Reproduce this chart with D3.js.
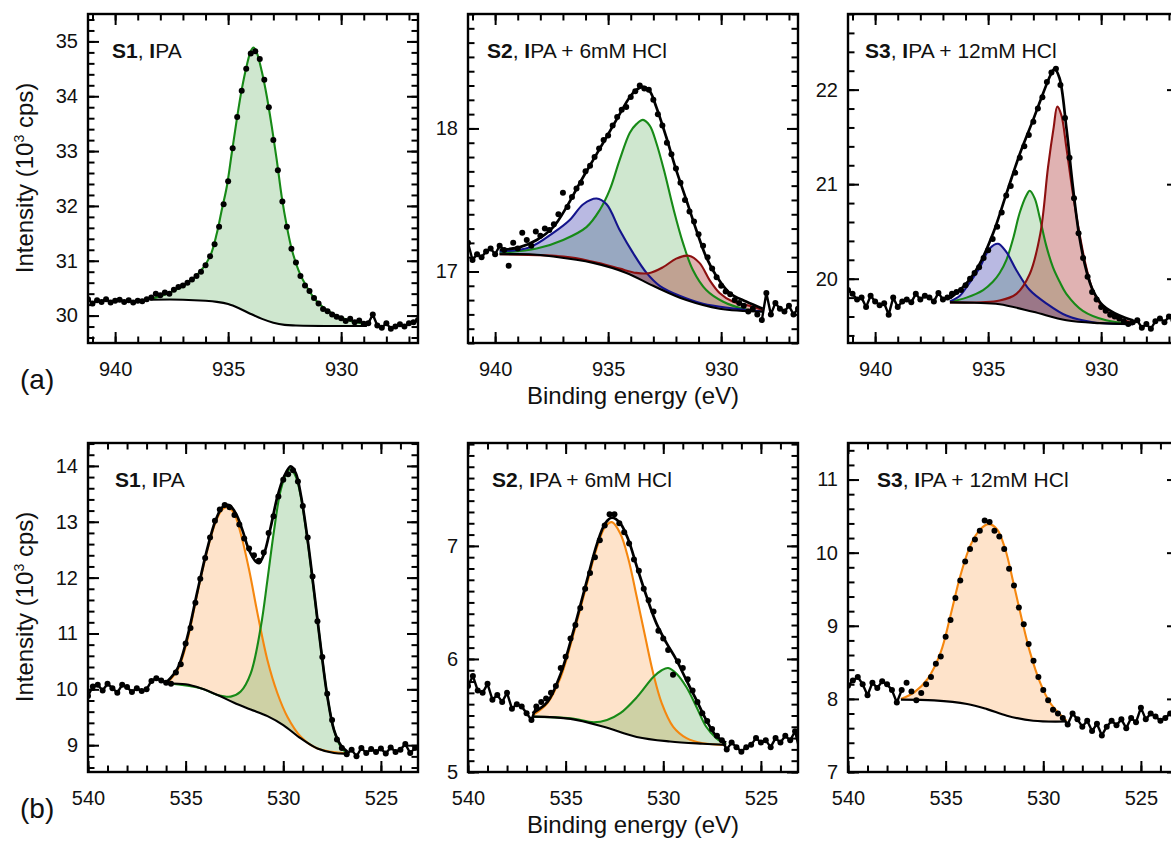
<!DOCTYPE html>
<html>
<head>
<meta charset="utf-8">
<script src="https://cdn.jsdelivr.net/npm/d3@7"></script>
<style>
  body { margin: 0; background: #fff; }
</style>
</head>
<body>
<div id="vis"></div>
<script>
// ---------- data ----------
// Cu 2p region, measured points every 0.2 eV starting at 941.2 eV
const cuDotStart = 941.2, cuDotStep = 0.2
const oDotStart = 540.0, oDotStep = 0.25
const cuXTicks = [940, 935, 930]
const oXTicks = [540, 535, 530, 525]

const cuS1Dots = [30.30,30.22,30.28,30.25,30.30,30.24,30.27,30.29,30.25,30.28,
  30.24,30.27,30.26,30.30,30.33,30.40,30.37,30.42,30.40,30.47,
  30.52,30.55,30.60,30.66,30.72,30.80,30.92,31.08,31.30,31.62,
  32.03,32.45,33.05,33.62,34.10,34.50,34.78,34.82,34.68,34.30,
  33.80,33.20,32.65,32.08,31.62,31.22,30.97,30.72,30.55,30.45,
  30.32,30.22,30.12,30.08,30.02,29.98,29.95,29.90,29.94,29.88,
  29.91,29.85,29.86,30.02,29.82,29.78,29.86,29.76,29.80,29.84,
  29.80,29.86,29.88,29.92]
const cuS1Fit = [[938.45,30.30],[937.71,30.40],[936.98,30.54],[936.24,30.80],[935.80,31.08],[935.50,31.50],
  [935.28,31.93],[935.06,32.35],[934.84,32.96],[934.62,33.57],[934.40,34.12],[934.17,34.57],[934.00,34.82],
  [933.88,34.89],[933.73,34.79],[933.51,34.45],[933.29,34.00],[933.07,33.45],[932.85,32.84],[932.63,32.17],
  [932.40,31.62],[932.18,31.20],[931.89,30.83],[931.52,30.52],[931.08,30.26],[930.63,30.10],[930.04,29.97],
  [929.45,29.89],[928.86,29.85]]
const cuS1Bg = [[938.45,30.29],[937.0,30.29],[936.0,30.27],[935.5,30.25],[935.0,30.21],[934.5,30.13],[934.0,30.03],
  [933.5,29.94],[933.0,29.87],[932.5,29.83],[932.0,29.82],[930.0,29.81],[928.86,29.81]]
const cuS1Y = [30, 31, 32, 33, 34, 35]

const cuS2Dots = [17.20,17.08,17.12,17.10,17.14,17.16,17.12,17.18,17.15,17.04,
  17.20,17.16,17.27,17.22,17.18,17.28,17.25,17.30,17.29,17.33,
  17.40,17.55,17.45,17.52,17.58,17.62,17.70,17.74,17.80,17.86,
  17.92,17.95,18.02,18.08,18.13,18.15,18.22,18.26,18.30,18.28,
  18.27,18.20,18.10,18.02,17.90,17.82,17.72,17.62,17.50,17.42,
  17.35,17.26,17.18,17.10,17.02,16.96,16.90,16.86,16.84,16.80,
  16.78,16.76,16.72,16.74,16.70,16.66,16.85,16.70,16.78,16.74,
  16.72,16.76,16.70,16.74]
const cuS2Env = [[939.8,17.15],[938.9,17.17],[938.16,17.22],[937.43,17.31],[936.84,17.45],[936.25,17.62],
  [935.66,17.78],[935.07,17.94],[934.49,18.10],[934.04,18.22],[933.75,18.27],[933.46,18.29],[933.16,18.26],
  [932.87,18.15],[932.43,17.94],[931.99,17.71],[931.54,17.50],[931.1,17.29],[930.66,17.10],[930.22,16.97],
  [929.63,16.85],[928.9,16.79],[928.16,16.74]]
const cuS2Bg = [[939.8,17.12],[938.5,17.12],[937.43,17.105],[935.66,17.06],[934.19,16.99],[933.01,16.90],
  [931.54,16.80],[930.07,16.74],[928.16,16.72]]
const cuS2Green = [[939.8,17.13],[938.16,17.16],[936.99,17.22],[935.96,17.31],[935.37,17.43],[934.93,17.57],
  [934.49,17.78],[934.04,17.97],[933.75,18.03],[933.46,18.06],[933.16,18.02],[932.87,17.90],[932.5,17.69],
  [932.13,17.45],[931.69,17.20],[931.25,17.01],[930.66,16.87],[929.93,16.79],[929.04,16.74],[928.16,16.72]]
const cuS2Blue = [[939.8,17.14],[938.46,17.17],[937.43,17.27],[936.7,17.36],[936.1,17.47],[935.51,17.51],
  [935.07,17.47],[934.49,17.29],[933.9,17.13],[933.3,16.99],[932.72,16.90],[931.84,16.83],[930.8,16.775],[928.16,16.72]]
const cuS2Red = [[939.8,17.12],[936.7,17.10],[935.2,17.05],[934.49,17.02],[933.75,16.99],[933.16,16.99],
  [932.57,17.03],[931.99,17.09],[931.43,17.11],[930.96,17.06],[930.51,16.94],[930.07,16.85],[929.49,16.79],
  [928.75,16.76],[928.16,16.73]]
const cuS2Y = [17, 18]

const cuS3Dots = [19.88,19.84,19.78,19.80,19.70,19.82,19.76,19.72,19.74,19.62,
  19.80,19.70,19.76,19.78,19.75,19.84,19.78,19.82,19.80,19.76,
  19.85,19.78,19.80,19.84,19.86,19.88,19.93,20.00,20.06,20.12,
  20.22,20.30,20.42,20.55,20.70,20.88,20.98,21.12,21.28,21.40,
  21.52,21.66,21.80,21.92,22.08,22.18,22.22,22.05,21.70,21.28,
  20.85,20.48,20.22,20.02,19.86,19.78,19.70,19.66,19.62,19.60,
  19.58,19.55,19.52,19.54,19.56,19.48,19.52,19.47,19.55,19.58,
  19.54,19.60,19.56,19.58]
const cuS3Env = [[936.69,19.79],[935.96,19.95],[935.37,20.16],[934.78,20.48],[934.19,20.90],[933.6,21.32],
  [933.01,21.68],[932.57,21.96],[932.21,22.17],[932.06,22.22],[931.84,22.12],[931.54,21.60],[931.25,20.97],
  [930.96,20.44],[930.66,20.09],[930.37,19.88],[929.93,19.72],[929.19,19.61],[928.6,19.56]]
const cuS3Bg = [[936.69,19.75],[935.6,19.745],[934.49,19.73],[933.01,19.65],[931.54,19.56],[930.07,19.53],[928.6,19.52]]
const cuS3Blue = [[936.69,19.76],[936.25,19.82],[935.96,19.91],[935.37,20.12],[934.93,20.32],[934.56,20.37],
  [934.19,20.28],[933.75,20.09],[933.16,19.88],[932.43,19.74],[931.54,19.61],[930.37,19.54],[928.6,19.52]]
const cuS3Green = [[936.69,19.755],[935.96,19.80],[935.22,19.88],[934.78,19.97],[934.49,20.06],[934.19,20.20],
  [933.9,20.42],[933.6,20.70],[933.31,20.88],[933.16,20.93],[932.94,20.85],[932.72,20.65],[932.43,20.35],
  [932.13,20.12],[931.84,19.97],[931.54,19.84],[930.81,19.66],[929.78,19.56],[928.6,19.525]]
const cuS3Red = [[936.69,19.75],[934.49,19.77],[933.75,19.84],[933.16,20.05],[932.69,20.48],[932.35,21.18],
  [932.1,21.60],[931.94,21.82],[931.76,21.73],[931.54,21.39],[931.25,20.90],[930.96,20.48],[930.66,20.12],
  [930.37,19.88],[929.93,19.70],[929.34,19.59],[928.6,19.535]]
const cuS3Y = [20, 21, 22]

// O 1s region, measured points every 0.25 eV starting at 540 eV
const oS1Dots = [9.88,10.05,10.08,9.98,10.10,10.02,9.94,10.08,10.04,9.95,
  10.02,9.97,10.00,10.15,10.20,10.16,10.12,10.10,10.30,10.45,
  10.82,11.10,11.55,11.98,12.35,12.72,13.02,13.22,13.30,13.26,
  13.12,12.95,12.70,12.52,12.40,12.30,12.45,12.80,13.10,13.45,
  13.75,13.85,13.92,13.72,13.28,12.72,12.02,11.22,10.58,9.92,
  9.45,9.10,8.95,8.84,8.92,8.80,8.95,8.86,8.93,8.88,
  8.94,8.85,8.96,8.88,8.92,9.02,8.86,8.95,8.90]
const oS1Env = [[535.94,10.14],[535.42,10.37],[534.91,10.94],[534.4,11.75],[533.89,12.52],[533.46,13.03],
  [533.12,13.26],[532.78,13.30],[532.43,13.15],[532.09,12.85],[531.75,12.49],[531.41,12.29],[531.24,12.26],
  [530.98,12.43],[530.64,12.91],[530.3,13.45],[529.96,13.81],[529.62,13.99],[529.36,13.87],[529.1,13.48],
  [528.76,12.70],[528.42,11.75],[528.08,10.76],[527.74,9.87],[527.4,9.27],[527.05,9.0],[526.71,8.88]]
const oS1Bg = [[535.94,10.11],[535.0,10.09],[534.23,10.02],[533.37,9.90],[532.52,9.76],[531.67,9.64],
  [530.81,9.52],[530.0,9.36],[529.1,9.12],[528.25,8.94],[527.4,8.86],[526.71,8.85]]
const oS1Orange = [[535.94,10.12],[535.42,10.34],[534.91,10.88],[534.4,11.72],[533.89,12.49],[533.46,13.0],
  [533.12,13.22],[532.86,13.26],[532.52,13.15],[532.18,12.79],[531.75,12.14],[531.32,11.36],[530.81,10.52],
  [530.3,9.93],[529.79,9.51],[529.1,9.15],[528.25,8.94],[526.71,8.85]]
const oS1Green = [[535.94,10.11],[534.23,10.02],[533.37,9.90],[532.69,9.87],[532.18,9.96],[531.67,10.28],
  [531.15,11.12],[530.81,11.96],[530.47,12.85],[530.13,13.57],[529.79,13.90],[529.62,13.94],[529.36,13.81],
  [529.1,13.45],[528.76,12.67],[528.42,11.72],[528.08,10.76],[527.74,9.87],[527.4,9.27],[527.05,8.97],[526.71,8.85]]
const oS1Y = [9, 10, 11, 12, 13, 14]

const oS2Dots = [5.76,5.85,5.72,5.70,5.78,5.64,5.68,5.62,5.70,5.56,
  5.60,5.58,5.52,5.46,5.58,5.62,5.65,5.70,5.76,5.92,
  6.02,6.18,6.30,6.45,6.62,6.76,6.90,7.05,7.18,7.28,
  7.28,7.20,7.12,7.02,6.88,6.78,6.62,6.52,6.42,6.25,
  6.18,6.08,5.86,5.98,5.92,5.82,5.72,5.62,5.52,5.45,
  5.38,5.32,5.28,5.20,5.26,5.22,5.18,5.22,5.24,5.30,
  5.26,5.28,5.22,5.30,5.26,5.32,5.28,5.36,5.18]
const oS2Env = [[536.7,5.52],[535.93,5.62],[535.25,5.87],[534.58,6.26],[533.9,6.70],[533.39,7.02],[532.97,7.20],
  [532.63,7.25],[532.2,7.20],[531.78,7.05],[531.36,6.82],[530.85,6.55],[530.34,6.31],[529.83,6.14],[529.32,5.99],
  [528.81,5.81],[528.31,5.64],[527.8,5.46],[527.29,5.32],[526.78,5.26]]
const oS2Bg = [[536.7,5.49],[534.75,5.47],[533.05,5.40],[531.36,5.31],[529.66,5.27],[527.97,5.25],[526.78,5.24]]
const oS2Orange = [[536.7,5.50],[535.93,5.61],[535.25,5.84],[534.58,6.23],[533.9,6.67],[533.39,6.99],[532.97,7.17],
  [532.63,7.21],[532.2,7.11],[531.78,6.88],[531.36,6.55],[530.93,6.20],[530.51,5.87],[530.08,5.61],[529.49,5.40],
  [528.81,5.30],[527.97,5.255],[526.78,5.24]]
const oS2Green = [[536.7,5.49],[534.75,5.475],[533.56,5.44],[532.88,5.46],[532.2,5.52],[531.36,5.66],[530.51,5.84],
  [530.08,5.90],[529.75,5.92],[529.32,5.87],[528.81,5.75],[528.31,5.58],[527.8,5.40],[527.29,5.30],[526.78,5.245]]
const oS2Y = [5, 6, 7]

const oS3Dots = [8.18,8.25,8.30,8.20,8.05,8.22,8.15,8.24,8.20,8.12,
  7.95,8.12,8.22,8.10,7.98,8.08,8.20,8.30,8.48,8.58,
  8.85,9.08,9.38,9.62,9.88,10.05,10.18,10.30,10.44,10.42,
  10.30,10.22,10.05,9.78,9.55,9.25,9.02,8.75,8.52,8.30,
  8.12,7.98,7.85,7.80,7.74,7.65,7.80,7.72,7.62,7.70,
  7.56,7.66,7.50,7.62,7.70,7.64,7.72,7.60,7.74,7.68,
  7.88,7.72,7.80,7.76,7.70,7.74,7.80,7.76,7.78]
const oS3Fit = [[537.29,8.00],[536.61,8.09],[535.93,8.27],[535.25,8.64],[534.75,9.14],[534.24,9.69],[533.73,10.10],
  [533.22,10.32],[532.8,10.39],[532.37,10.32],[531.95,10.05],[531.53,9.59],[531.1,9.09],[530.68,8.64],
  [530.17,8.23],[529.66,7.95],[529.15,7.79],[528.81,7.70]]
const oS3Bg = [[537.29,7.99],[535.59,7.98],[533.9,7.93],[532.88,7.86],[531.86,7.77],[530.51,7.70],[528.81,7.69]]
const oS3Y = [7, 8, 9, 10, 11]

// ---------- layout & styles ----------
const FONT = '"Liberation Sans", Arial, Helvetica, sans-serif'
const COL_X = [88, 468, 848]
const ROW_Y = [14, 443]
const PW = 330, PH = 329

const GREEN = {stroke: '#178a17', fill: 'rgba(30,140,30,0.21)'}
const BLUE = {stroke: '#14148c', fill: 'rgba(30,30,160,0.31)'}
const RED = {stroke: '#8c1010', fill: 'rgba(160,20,20,0.33)'}
const ORANGE = {stroke: '#f5870f', fill: 'rgba(250,150,60,0.27)'}

const PANELS = [
  {col: 0, row: 0, dots: cuS1Dots, e0: cuDotStart, step: cuDotStep, xDomain: [941.2, 926.6], xTicks: cuXTicks,
   yDomain: [29.5, 35.5], yTicks: cuS1Y, yMinor: 0.2, bg: cuS1Bg, env: null,
   comps: [{data: cuS1Fit, ...GREEN}], title: ['S1', 'PA'], titleX: 24},
  {col: 1, row: 0, dots: cuS2Dots, e0: cuDotStart, step: cuDotStep, xDomain: [941.2, 926.6], xTicks: cuXTicks,
   yDomain: [16.5, 18.8], yTicks: cuS2Y, yMinor: 0.1, bg: cuS2Bg, env: cuS2Env,
   comps: [{data: cuS2Green, ...GREEN}, {data: cuS2Blue, ...BLUE}, {data: cuS2Red, ...RED}],
   title: ['S2', 'PA + 6mM HCl'], titleX: 19},
  {col: 2, row: 0, dots: cuS3Dots, e0: cuDotStart, step: cuDotStep, xDomain: [941.2, 926.6], xTicks: cuXTicks,
   yDomain: [19.32, 22.8], yTicks: cuS3Y, yMinor: 0.2, bg: cuS3Bg, env: cuS3Env,
   comps: [{data: cuS3Green, ...GREEN}, {data: cuS3Blue, ...BLUE}, {data: cuS3Red, ...RED}],
   title: ['S3', 'PA + 12mM HCl'], titleX: 17},
  {col: 0, row: 1, dots: oS1Dots, e0: oDotStart, step: oDotStep, xDomain: [540, 523.1], xTicks: oXTicks,
   yDomain: [8.52, 14.41], yTicks: oS1Y, yMinor: 0.2, bg: oS1Bg, env: oS1Env,
   comps: [{data: oS1Orange, ...ORANGE}, {data: oS1Green, ...GREEN}], title: ['S1', 'PA'], titleX: 27},
  {col: 1, row: 1, dots: oS2Dots, e0: oDotStart, step: oDotStep, xDomain: [540, 523.1], xTicks: oXTicks,
   yDomain: [5, 7.91], yTicks: oS2Y, yMinor: 0.1, bg: oS2Bg, env: oS2Env,
   comps: [{data: oS2Orange, ...ORANGE}, {data: oS2Green, ...GREEN}], title: ['S2', 'PA + 6mM HCl'], titleX: 24},
  {col: 2, row: 1, dots: oS3Dots, e0: oDotStart, step: oDotStep, xDomain: [540, 523.1], xTicks: oXTicks,
   yDomain: [7, 11.5], yTicks: oS3Y, yMinor: 0.2, bg: oS3Bg, env: null,
   comps: [{data: oS3Fit, ...ORANGE}], title: ['S3', 'PA + 12mM HCl'], titleX: 29}
]

const svg = d3.select('#vis').append('svg')
  .attr('width', 1171).attr('height', 841)
  .style('font-family', FONT)

PANELS.forEach((p, i) => {
  const g = svg.append('g').attr('transform', `translate(${COL_X[p.col]},${ROW_Y[p.row]})`)
  const x = d3.scaleLinear().domain(p.xDomain).range([0, PW])
  const y = d3.scaleLinear().domain(p.yDomain).range([PH, 0])

  g.append('clipPath').attr('id', 'clip' + i)
    .append('rect').attr('width', PW).attr('height', PH)
  const plot = g.append('g').attr('clip-path', `url(#clip${i})`)

  const line = d3.line().x(d => x(d[0])).y(d => y(d[1])).curve(d3.curveCatmullRom.alpha(0.5))
  const bgBack = line(p.bg.slice().reverse()).slice(1)

  // shaded components between fit and background
  p.comps.forEach(c => {
    plot.append('path').attr('d', line(c.data) + 'L' + bgBack + 'Z')
      .attr('fill', c.fill).attr('stroke', 'none')
  })
  p.comps.forEach(c => {
    plot.append('path').attr('d', line(c.data))
      .attr('fill', 'none').attr('stroke', c.stroke).attr('stroke-width', 2.1)
  })
  plot.append('path').attr('d', line(p.bg))
    .attr('fill', 'none').attr('stroke', '#000').attr('stroke-width', 2.1)
  if (p.env) {
    plot.append('path').attr('d', line(p.env))
      .attr('fill', 'none').attr('stroke', '#000').attr('stroke-width', 2.7)
  }

  // measured points; outside the fitted window the dense scan reads as a jagged line
  const pts = p.dots.map((v, j) => [p.e0 - j * p.step, v])
  const fitHi = p.bg[0][0], fitLo = p.bg[p.bg.length - 1][0]
  const raw = d3.line().x(d => x(d[0])).y(d => y(d[1]))
  const leftPts = pts.filter(d => d[0] >= fitHi - p.step)
  const rightPts = pts.filter(d => d[0] <= fitLo + p.step)
  ;[leftPts, rightPts].forEach(seg => {
    plot.append('path').attr('d', raw(seg))
      .attr('fill', 'none').attr('stroke', '#000').attr('stroke-width', 2.4)
      .attr('stroke-linejoin', 'round')
  })
  plot.selectAll('circle').data(pts).join('circle')
    .attr('cx', d => x(d[0]))
    .attr('cy', d => y(d[1]))
    .attr('r', 3)
    .attr('fill', '#000')

  // ticks (inside, on all four sides)
  const xr = x.domain()
  const xMinor = d3.range(Math.ceil(Math.min(...xr)), Math.floor(Math.max(...xr)) + 1)
  const yd = y.domain()
  const yMinor = d3.range(Math.ceil(yd[0] / p.yMinor - 1e-6), Math.floor(yd[1] / p.yMinor + 1e-6) + 1)
    .map(k => +(k * p.yMinor).toFixed(2))

  const axes = [
    [d3.axisBottom(x), `translate(0,${PH})`, p.xTicks, xMinor, true, true],
    [d3.axisTop(x), 'translate(0,0)', p.xTicks, xMinor, false, true],
    [d3.axisLeft(y), 'translate(0,0)', p.yTicks, yMinor, true, false],
    [d3.axisRight(y), `translate(${PW},0)`, p.yTicks, yMinor, false, false]
  ]
  axes.forEach(([ax, tr, major, minor, labels, isX]) => {
    const ag = g.append('g').attr('transform', tr)
      .call(ax.tickValues(minor).tickSize(-6.5).tickFormat(''))
    ag.select('.domain').remove()
    ag.selectAll('line').attr('stroke', '#000').attr('stroke-width', 2)

    const mg = g.append('g').attr('transform', tr)
      .call(ax.tickValues(major).tickSize(-11)
        .tickPadding(isX ? 19 : 10)
        .tickFormat(labels ? d3.format('d') : ''))
    mg.select('.domain').remove()
    mg.selectAll('line').attr('stroke', '#000').attr('stroke-width', 2)
    mg.attr('font-family', FONT).attr('font-size', 20)
    mg.selectAll('text').attr('fill', '#111')
  })

  // frame
  g.append('rect').attr('width', PW).attr('height', PH)
    .attr('fill', 'none').attr('stroke', '#000').attr('stroke-width', 2.4)

  // panel title
  const t = g.append('text').attr('x', p.titleX).attr('y', 44)
    .attr('font-size', 21).attr('fill', '#111')
  t.append('tspan').attr('font-weight', 'bold').text(p.title[0])
  t.append('tspan').text(', ')
  t.append('tspan').attr('font-weight', 'bold').text('I')
  t.append('tspan').text(p.title[1])
})

// axis titles and panel letters
ROW_Y.forEach((top, r) => {
  const yl = svg.append('text')
    .attr('transform', `translate(33,${top + 164}) rotate(-90)`)
    .attr('text-anchor', 'middle').attr('font-size', 24).attr('fill', '#111')
  yl.append('tspan').text('Intensity (10')
  yl.append('tspan').attr('font-size', 14).attr('dy', -9).text('3')
  yl.append('tspan').attr('dy', 9).text(' cps)')

  svg.append('text')
    .attr('x', COL_X[1] + PW / 2).attr('y', top + PH + 61)
    .attr('text-anchor', 'middle').attr('font-size', 24).attr('fill', '#111')
    .text('Binding energy (eV)')

  svg.append('text')
    .attr('x', 20).attr('y', top + PH + 46)
    .attr('font-size', 28).attr('fill', '#111')
    .text(r === 0 ? '(a)' : '(b)')
})
</script>
</body>
</html>
